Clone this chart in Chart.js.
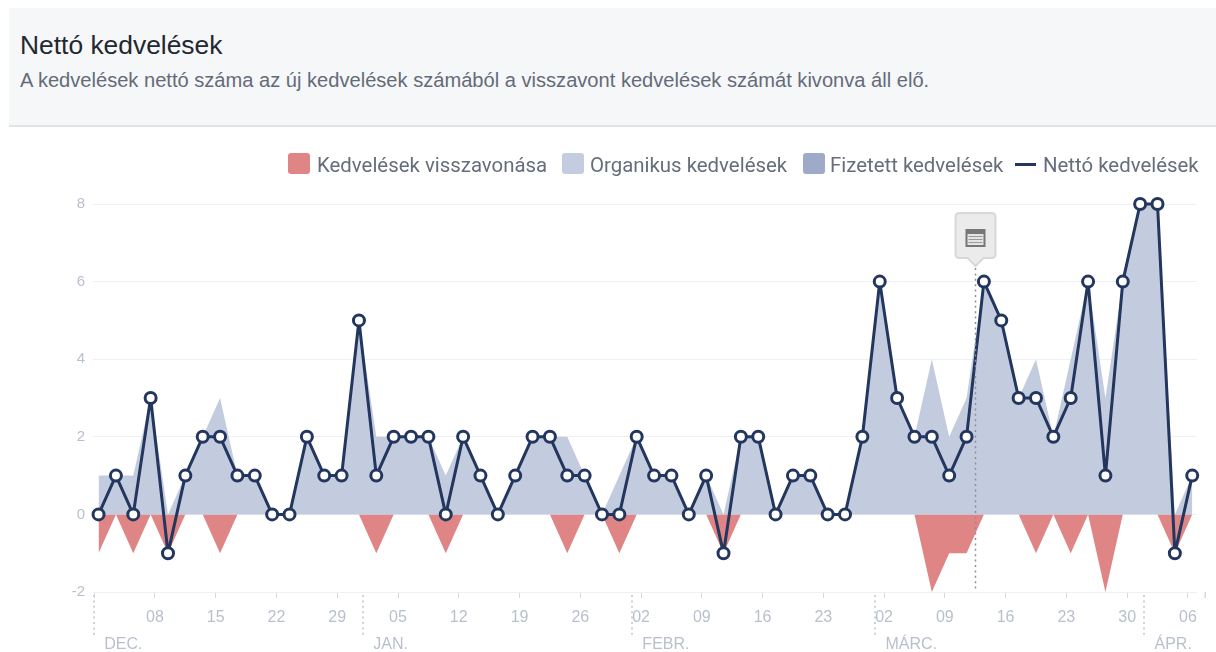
<!DOCTYPE html>
<html lang="hu">
<head>
<meta charset="utf-8">
<title>Nettó kedvelések</title>
<script src="https://cdn.jsdelivr.net/npm/chart.js"></script>
<style>
  html, body { margin: 0; padding: 0; background: #fff; }
  body { position: relative; width: 1216px; height: 652px; overflow: hidden; font-family: Roboto, sans-serif; }
  #header { position: absolute; left: 9px; top: 8px; width: 1207px; height: 117px; background: #f6f7f9; border-bottom: 2px solid #e2e3e7; }
  #title { position: absolute; left: 20px; top: 29px; font: 26.4px/32px "Liberation Sans", Arial, sans-serif; color: #23272f; white-space: nowrap; }
  #subtitle { position: absolute; left: 20px; top: 67px; font: 20.1px/26px "Liberation Sans", Arial, sans-serif; color: #646b78; white-space: nowrap; }
  #chart { position: absolute; left: 0; top: 0; }
  .swatch { position: absolute; top: 153px; width: 22px; height: 21px; border-radius: 3px; }
  .legend-line { position: absolute; top: 163px; left: 1015px; width: 21px; height: 3px; background: #23365e; }
  .legend-text { position: absolute; top: 152px; font: 20.4px/27px Roboto, sans-serif; color: #666d7b; white-space: nowrap; }
</style>
</head>
<body>
<div id="header"></div>
<div id="title">Nettó kedvelések</div>
<div id="subtitle">A kedvelések nettó száma az új kedvelések számából a visszavont kedvelések számát kivonva áll elő.</div>
<canvas id="chart" width="1216" height="652"></canvas>
<div class="swatch" style="left:288px;background:#e08585"></div>
<div class="legend-text" style="left:317px">Kedvelések visszavonása</div>
<div class="swatch" style="left:562px;background:#c4cde0"></div>
<div class="legend-text" style="left:590px">Organikus kedvelések</div>
<div class="swatch" style="left:803px;background:#9daac8"></div>
<div class="legend-text" style="left:830px">Fizetett kedvelések</div>
<div class="legend-line"></div>
<div class="legend-text" style="left:1043px">Nettó kedvelések</div>

<script>
// Values, one point every two days from 1 Dec
const netLikes = [0, 1, 0, 3, -1, 1, 2, 2, 1, 1, 0, 0, 2, 1, 1, 5, 1, 2, 2, 2, 0, 2, 1, 0, 1, 2, 2, 1, 1, 0, 0, 2,
    1, 1, 0, 1, -1, 2, 2, 0, 1, 1, 0, 0, 2, 6, 3, 2, 2, 1, 2, 6, 5, 3, 3, 2, 3, 6, 1, 6, 8, 8, -1, 1];
const organicLikes = [1, 1, 1, 3, 0, 1, 2, 3, 1, 1, 0, 0, 2, 1, 1, 5, 2, 2, 2, 2, 1, 2, 1, 0, 1, 2, 2, 2, 1, 0, 1, 2,
    1, 1, 0, 1, 0, 2, 2, 0, 1, 1, 0, 0, 2, 6, 3, 2, 4, 2, 3, 6, 5, 3, 4, 2, 4, 6, 3, 6, 8, 8, 0, 1];
const paidLikes = [0, 0, 0, 0, 0, 0, 0, 0, 0, 0, 0, 0, 0, 0, 0, 0, 0, 0, 0, 0, 0, 0, 0, 0, 0, 0, 0, 0, 0, 0, 0, 0,
    0, 0, 0, 0, 0, 0, 0, 0, 0, 0, 0, 0, 0, 0, 0, 0, 0, 0, 0, 0, 0, 0, 0, 0, 0, 0, 0, 0, 0, 0, 0, 0];
const unlikes = [-1, 0, -1, 0, -1, 0, 0, -1, 0, 0, 0, 0, 0, 0, 0, 0, -1, 0, 0, 0, -1, 0, 0, 0, 0, 0, 0, -1, 0, 0, -1, 0,
    0, 0, 0, 0, -1, 0, 0, 0, 0, 0, 0, 0, 0, 0, 0, 0, -2, -1, -1, 0, 0, 0, -1, 0, -1, 0, -2, 0, 0, 0, -1, 0];

// x axis is counted in days since 1 Dec
const weekTickDays = [7, 14, 21, 28, 35, 42, 49, 56, 63, 70, 77, 84, 91, 98, 105, 112, 119, 126];
const weekTickLabels = ['08', '15', '22', '29', '05', '12', '19', '26', '02', '09', '16', '23', '02', '09', '16', '23', '30', '06'];
const monthStartDays = [0, 31, 62, 90, 121];
const monthLabels = ['DEC.', 'JAN.', 'FEBR.', 'MÁRC.', 'ÁPR.'];
const yTicks = [-2, 0, 2, 4, 6, 8];
const noteDay = 101.5;
const lastTickDay = 128;

const pointDays = netLikes.map((v, i) => i * 2 + 0.5);
const toPoints = values => values.map((v, i) => ({ x: pointDays[i], y: v }));

const axisTextColor = '#b9c0cd';
const gridColor = '#eff0f3';
const tickColor = '#d5d8de';
const navy = '#23365e';

// Month separators, month names and the note marker are not something the scale can draw
const extrasPlugin = {
    id: 'extras',
    afterDatasetsDraw(chart) {
        const ctx = chart.ctx;
        const xScale = chart.scales.x;
        const yBottom = chart.chartArea.bottom;

        ctx.save();
        // month separators
        ctx.strokeStyle = '#ced1d7';
        ctx.lineWidth = 2;
        ctx.setLineDash([2, 3.4]);
        monthStartDays.forEach(day => {
            const x = Math.round(xScale.getPixelForValue(day));
            ctx.beginPath();
            ctx.moveTo(x, yBottom + 3);
            ctx.lineTo(x, yBottom + 45);
            ctx.stroke();
        });

        // stray end tick past the axis line
        ctx.setLineDash([]);
        ctx.strokeStyle = tickColor;
        ctx.lineWidth = 1.5;
        const endX = xScale.getPixelForValue(lastTickDay);
        ctx.beginPath();
        ctx.moveTo(endX, yBottom);
        ctx.lineTo(endX, yBottom + 6);
        ctx.stroke();

        // month names
        ctx.fillStyle = axisTextColor;
        ctx.font = '16px "Liberation Sans", Arial, sans-serif';
        ctx.textBaseline = 'middle';
        ctx.textAlign = 'left';
        monthStartDays.forEach((day, i) => {
            ctx.fillText(monthLabels[i], xScale.getPixelForValue(day) + 10, yBottom + 53);
        });

        // note marker
        const noteX = Math.round(xScale.getPixelForValue(noteDay)) + 0.5;
        ctx.strokeStyle = '#8d8f94';
        ctx.lineWidth = 1.5;
        ctx.setLineDash([2, 3.4]);
        ctx.beginPath();
        ctx.moveTo(noteX, 268);
        ctx.lineTo(noteX, yBottom);
        ctx.stroke();
        ctx.setLineDash([]);

        ctx.fillStyle = '#ebebeb';
        ctx.strokeStyle = '#d8d8d8';
        ctx.lineWidth = 2;
        ctx.beginPath();
        ctx.moveTo(noteX - 16, 213);
        ctx.lineTo(noteX + 16, 213);
        ctx.quadraticCurveTo(noteX + 20, 213, noteX + 20, 217);
        ctx.lineTo(noteX + 20, 254);
        ctx.quadraticCurveTo(noteX + 20, 258, noteX + 16, 258);
        ctx.lineTo(noteX + 8, 258);
        ctx.lineTo(noteX, 266);
        ctx.lineTo(noteX - 8, 258);
        ctx.lineTo(noteX - 16, 258);
        ctx.quadraticCurveTo(noteX - 20, 258, noteX - 20, 254);
        ctx.lineTo(noteX - 20, 217);
        ctx.quadraticCurveTo(noteX - 20, 213, noteX - 16, 213);
        ctx.closePath();
        ctx.fill();
        ctx.stroke();

        ctx.fillStyle = '#777';
        ctx.fillRect(noteX - 10, 229, 20, 18);
        ctx.fillStyle = '#e4e4e4';
        ctx.fillRect(noteX - 8, 234, 16, 11);
        ctx.fillStyle = '#999';
        ctx.fillRect(noteX - 7, 236, 14, 1);
        ctx.fillRect(noteX - 7, 239, 14, 1);
        ctx.fillRect(noteX - 7, 242, 14, 1);
        ctx.restore();
    }
};

new Chart(document.getElementById('chart').getContext('2d'), {
    type: 'line',
    data: {
        datasets: [
            {
                label: 'Kedvelések visszavonása',
                data: toPoints(unlikes),
                borderWidth: 0,
                pointRadius: 0,
                fill: 'origin',
                backgroundColor: '#e08585',
                order: 3
            },
            {
                label: 'Organikus kedvelések',
                data: toPoints(organicLikes),
                borderWidth: 0,
                pointRadius: 0,
                fill: 'origin',
                backgroundColor: 'rgba(189, 199, 220, 0.9)',
                order: 2
            },
            {
                label: 'Fizetett kedvelések',
                data: toPoints(paidLikes),
                borderWidth: 0,
                pointRadius: 0,
                fill: 'origin',
                backgroundColor: '#9daac8',
                order: 1
            },
            {
                label: 'Nettó kedvelések',
                data: toPoints(netLikes),
                borderColor: navy,
                borderWidth: 3,
                borderJoinStyle: 'round',
                pointRadius: 5.5,
                pointBorderWidth: 3,
                pointBackgroundColor: '#fff',
                pointBorderColor: navy,
                fill: false,
                clip: false,
                order: 0
            }
        ]
    },
    options: {
        responsive: false,
        animation: false,
        events: [],
        layout: { padding: { top: 204, right: 19, left: 0, bottom: 0 } },
        plugins: { legend: { display: false }, tooltip: { enabled: false } },
        scales: {
            x: {
                type: 'linear',
                min: -0.14,
                max: 127.05,
                afterBuildTicks(scale) {
                    scale.ticks = [0].concat(weekTickDays).map(value => ({ value }));
                },
                afterFit(scale) { scale.height = 60; },
                grid: { drawOnChartArea: false, tickLength: 6, color: tickColor },
                border: { display: false },
                ticks: {
                    autoSkip: false,
                    maxRotation: 0,
                    padding: 10,
                    color: axisTextColor,
                    font: { family: '"Liberation Sans", Arial, sans-serif', size: 16 },
                    callback(value) {
                        const idx = weekTickDays.indexOf(value);
                        return idx < 0 ? '' : weekTickLabels[idx];
                    }
                }
            },
            y: {
                min: -2,
                max: 8,
                afterBuildTicks(scale) {
                    scale.ticks = yTicks.map(value => ({ value }));
                },
                afterFit(scale) { scale.width = 93; },
                grid: { color: gridColor, drawTicks: false },
                border: { display: false },
                ticks: {
                    padding: 8,
                    color: axisTextColor,
                    font: { family: '"Liberation Sans", Arial, sans-serif', size: 15 }
                }
            }
        }
    },
    plugins: [extrasPlugin]
});
</script>
</body>
</html>
